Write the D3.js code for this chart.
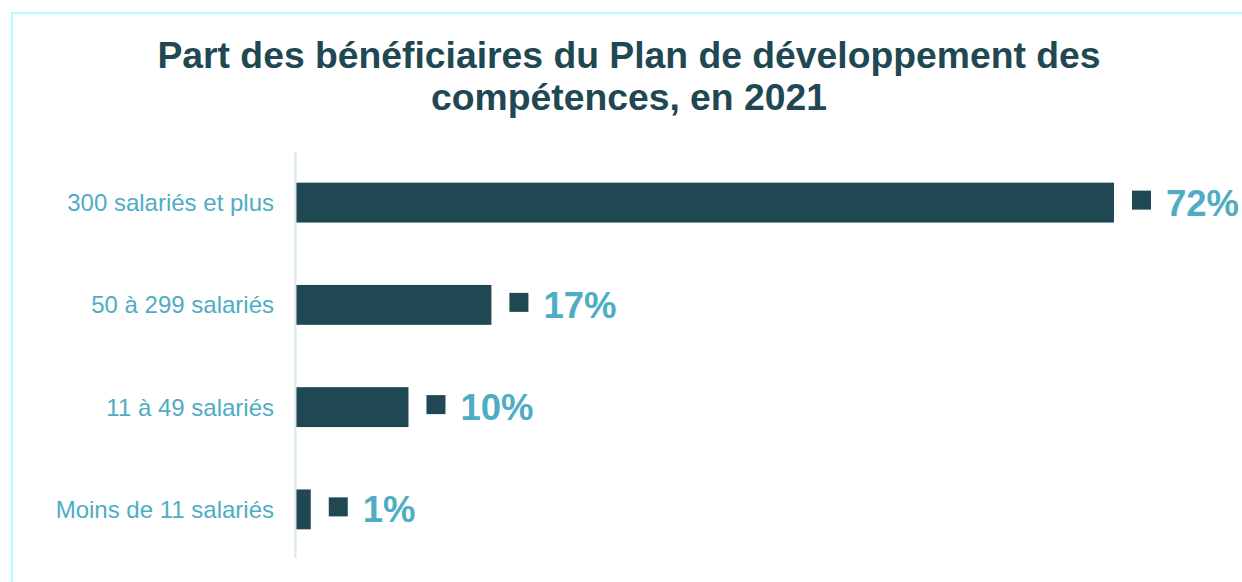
<!DOCTYPE html>
<html lang="fr">
<head>
<meta charset="utf-8">
<title>Part des bénéficiaires du Plan de développement des compétences</title>
<script src="https://d3js.org/d3.v7.min.js"></script>
<style>
    body { margin: 0; background: #fff; }
    svg { display: block; font-family: "Liberation Sans", Arial, sans-serif; }
</style>
</head>
<body>
<div id="chart"></div>
<script>
    // data (bar lengths estimated, labels as printed)
    var categories = ['300 salariés et plus', '50 à 299 salariés', '11 à 49 salariés', 'Moins de 11 salariés'];
    var values = [72, 17.2, 9.9, 1.3];
    var valueLabels = ['72%', '17%', '10%', '1%'];
    var titleLines = ['Part des bénéficiaires du Plan de développement des', 'compétences, en 2021'];

    var width = 1242, height = 582;
    var dark = '#1f4852', light = '#4eadc4';

    var svg = d3.select('#chart').append('svg')
        .attr('width', width)
        .attr('height', height);

    // light frame, open on the right and bottom edges
    svg.append('rect')
        .attr('x', 12).attr('y', 13)
        .attr('width', width).attr('height', height)
        .attr('fill', 'none')
        .attr('stroke', '#b6fdfd')
        .attr('stroke-width', 2);

    // title
    svg.append('text')
        .attr('text-anchor', 'middle')
        .attr('font-size', 37.3)
        .attr('font-weight', 'bold')
        .attr('fill', dark)
        .selectAll('tspan')
        .data(titleLines)
        .enter()
        .append('tspan')
        .attr('x', 629)
        .attr('y', function (d, i) { return 68 + i * 42; })
        .text(function (d) { return d; });

    var x = d3.scaleLinear().domain([0, 72]).range([296, 1114]);
    var y = d3.scaleBand().domain(categories).range([152, 560]).paddingInner(0.61).paddingOuter(0.3);

    var data = categories.map(function (c, i) { return { cat: c, value: values[i], label: valueLabels[i] }; });

    // bars
    svg.selectAll('.bar')
        .data(data)
        .enter()
        .append('rect')
        .attr('class', 'bar')
        .attr('x', x(0))
        .attr('y', function (d) { return y(d.cat); })
        .attr('width', function (d) { return x(d.value) - x(0); })
        .attr('height', y.bandwidth())
        .attr('fill', dark);

    // vertical axis line
    svg.append('line')
        .attr('x1', 295.5).attr('x2', 295.5)
        .attr('y1', 152).attr('y2', 558)
        .attr('stroke', '#d6e9ef')
        .attr('stroke-width', 2);

    // category labels
    svg.selectAll('.cat')
        .data(data)
        .enter()
        .append('text')
        .attr('class', 'cat')
        .attr('x', 274)
        .attr('y', function (d) { return y(d.cat) + y.bandwidth() / 2; })
        .attr('dy', '0.35em')
        .attr('text-anchor', 'end')
        .attr('font-size', 24)
        .attr('fill', light)
        .text(function (d) { return d.cat; });

    // little square markers next to the value labels
    svg.selectAll('.mark')
        .data(data)
        .enter()
        .append('rect')
        .attr('class', 'mark')
        .attr('x', function (d) { return x(d.value) + 18; })
        .attr('y', function (d) { return y(d.cat) + y.bandwidth() / 2 - 12; })
        .attr('width', 19)
        .attr('height', 19)
        .attr('fill', dark);

    // value labels
    svg.selectAll('.val')
        .data(data)
        .enter()
        .append('text')
        .attr('class', 'val')
        .attr('x', function (d) { return x(d.value) + 52; })
        .attr('y', function (d) { return y(d.cat) + y.bandwidth() / 2 + 13; })
        .attr('font-size', 36.5)
        .attr('font-weight', 'bold')
        .attr('fill', light)
        .text(function (d) { return d.label; });
</script>
</body>
</html>
